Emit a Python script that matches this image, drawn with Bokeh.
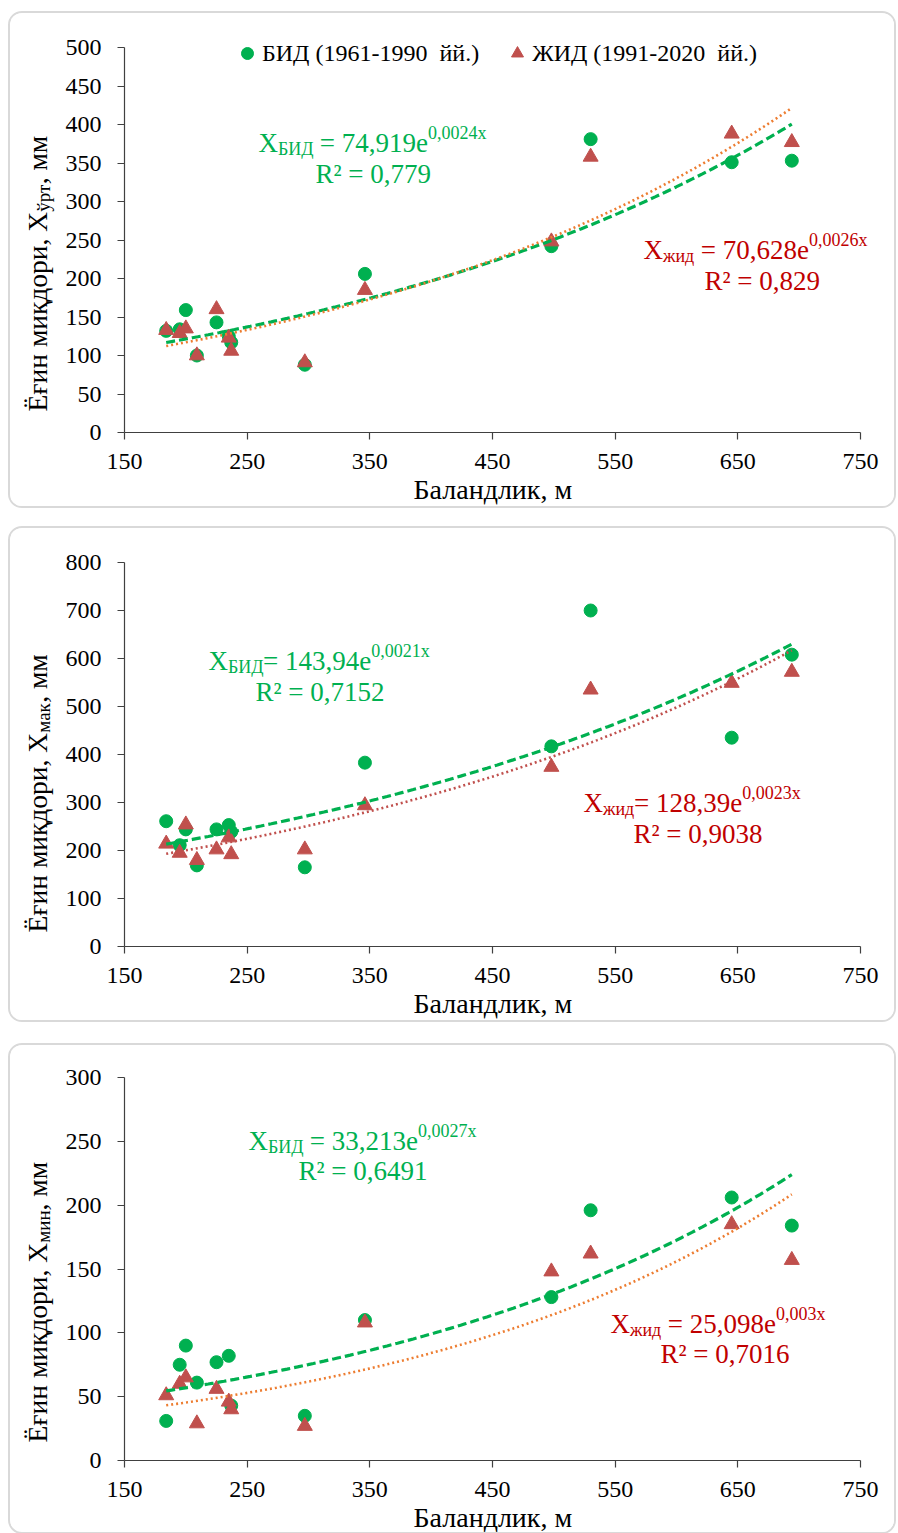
import numpy as np
from bokeh.plotting import figure
from bokeh.models import Label, Legend, LegendItem, Spacer, Range1d, FixedTicker, Title
from bokeh.layouts import column, row
from bokeh.embed import file_html
from bokeh.resources import INLINE

# ---------------- data ----------------
altitude = [184, 195, 200, 209, 225, 235, 237, 297, 346, 498, 530, 645, 694]

bid_avg = [132, 134, 159, 100, 143, 125, 117, 88, 206, 242, 381, 351, 353]
zhid_avg = [133, 129, 135, 100, 160, 123, 106, 91, 185, 248, 358, 388, 377]

bid_max = [261, 211, 244, 169, 244, 253, 239, 165, 383, 417, 700, 435, 608]
zhid_max = [214, 195, 254, 180, 202, 227, 192, 202, 294, 374, 535, 549, 572]

bid_min = [31, 75, 90, 61, 77, 82, 43, 35, 110, 128, 196, 206, 184]
zhid_min = [51, 60, 65, 29, 56, 46, 40, 27, 108, 148, 162, 185, 157]

x_ticks = [150, 250, 350, 450, 550, 650, 750]
y_ticks_avg = [0, 50, 100, 150, 200, 250, 300, 350, 400, 450, 500]
y_ticks_max = [0, 100, 200, 300, 400, 500, 600, 700, 800]
y_ticks_min = [0, 50, 100, 150, 200, 250, 300]

legend_labels = ["БИД (1961-1990  йй.)", "ЖИД (1991-2020  йй.)"]
x_title = "Баландлик, м"
y_title_main = "Ёғин миқдори, X"
y_title_subs = ["ўрт", "мак", "мин"]
y_title_tail = ", мм"

NB = "\u00a0"
eq_bid = [(NB + "= 74,919e", "0,0024x", "R² = 0,779"),
          ("= 143,94e", "0,0021x", "R² = 0,7152"),
          (NB + "= 33,213e", "0,0027x", "R² = 0,6491")]
eq_zhid = [(NB + "= 70,628e", "0,0026x", "R² = 0,829"),
           ("= 128,39e", "0,0023x", "R² = 0,9038"),
           (NB + "= 25,098e", "0,003x", "R² = 0,7016")]

GREEN = "#00B050"
RED_M = "#C0504D"
ORANGE = "#ED7D31"
GREEN_T = "#00B050"
RED_T = "#C00000"
AXIS = "#404040"
FONT = "Liberation Serif"

W = {' ': .25, NB: .25, ',': .25, '.': .25, '=': .564, 'e': .444, 'x': .5, 'X': .722,
     'Б': .556, 'И': .722, 'Д': .667, 'ж': .69, 'и': .535, 'д': .5, 'ў': .5,
     'р': .5, 'т': .444, 'м': .63, 'а': .444, 'к': .5, 'н': .535, 'Ё': .611,
     'ғ': .41, 'қ': .5, 'о': .5}

PX_PER_X = 736 / 600.0   # screen px per altitude unit
EQ_DY = 10               # baseline correction


def tw(s, size, k=1.0):
    return sum(W.get(c, 0.5) for c in s) * size * k


def rich(p, x, y, parts, color, angle=0.0, k=1.0):
    pos = 0.0
    for text, size, shift in parts:
        if angle == 0:
            sx, sy = x + pos, y + shift
        else:
            sx, sy = x - shift, y + pos
        p.add_layout(Label(x=sx, y=sy, x_units="screen", y_units="screen", text=text,
                           text_font=FONT, text_font_size=f"{size}px", text_color=color,
                           text_align="left", text_baseline="alphabetic", angle=angle))
        pos += tw(text, size, k)


def make_panel(bid, zhid, yticks, fh_axis, extra_top, bb, sub, eqb, eqz, posb, posz,
               ylab_y, zcolor, legend=False):
    frame_w = 770
    frame_h = fh_axis + extra_top
    y_top = yticks[-1] * frame_h / fh_axis
    x_right = 150 + frame_w / PX_PER_X
    p = figure(frame_width=frame_w, frame_height=frame_h, x_range=Range1d(150, x_right),
               y_range=Range1d(0, y_top), output_backend="svg",
               toolbar_location=None, min_border_left=64, min_border_right=0,
               min_border_top=0, min_border_bottom=bb,
               background_fill_color="white", border_fill_color="white")
    p.outline_line_color = None
    p.grid.visible = False
    for ax in (p.xaxis[0], p.yaxis[0]):
        ax.axis_line_color = AXIS
        ax.axis_line_width = 1.2
        ax.major_tick_line_color = AXIS
        ax.major_tick_line_width = 1.2
        ax.minor_tick_line_color = None
        ax.major_tick_in = 0
        ax.major_tick_out = 7
        ax.major_label_text_font = FONT
        ax.major_label_text_font_size = "24px"
        ax.major_label_text_color = "#000000"
    p.xaxis.ticker = FixedTicker(ticks=x_ticks)
    p.yaxis.ticker = FixedTicker(ticks=yticks)
    p.xaxis.bounds = (x_ticks[0], x_ticks[-1])
    p.yaxis.bounds = (yticks[0], yticks[-1])
    p.xaxis.major_label_standoff = 14
    p.yaxis.major_label_standoff = 16

    p.add_layout(Title(text=x_title, align="left", offset=289, text_font=FONT,
                       text_font_size="28px", text_font_style="normal", text_color="#000000",
                       standoff=0), "below")

    r1 = p.scatter(altitude, bid, marker="circle", size=13, color=GREEN)
    r2 = p.scatter(altitude, zhid, marker="triangle", size=15, color=RED_M)

    xs = np.linspace(min(altitude), max(altitude), 120)
    b1, a1 = np.polyfit(altitude, np.log(bid), 1)
    b2, a2 = np.polyfit(altitude, np.log(zhid), 1)
    p.line(xs, np.exp(a1) * np.exp(b1 * xs), line_color=GREEN, line_width=3.2, line_dash="9 4")
    p.line(xs, np.exp(a2) * np.exp(b2 * xs), line_color=zcolor, line_width=2.6, line_dash="2 3")

    if legend:
        lg = Legend(items=[LegendItem(label=legend_labels[0], renderers=[r1]),
                           LegendItem(label=legend_labels[1], renderers=[r2])],
                    orientation="horizontal", location=(108, 364),
                    glyph_width=30, glyph_height=30, label_standoff=0, spacing=23,
                    padding=0, margin=0, border_line_color=None, background_fill_alpha=0,
                    label_text_font=FONT, label_text_font_size="24px", label_text_color="#000000")
        p.add_layout(lg)

    # equations
    bx, by, rx, ry = posb
    rich(p, bx, by + EQ_DY, [("X", 27, 0), ("БИД", 18, -6), (eqb[0], 27, 0), (eqb[1], 18, 10)], GREEN_T)
    rich(p, rx, ry + EQ_DY, [(eqb[2], 27, 0)], GREEN_T)
    bx, by, rx, ry = posz
    rich(p, bx, by + EQ_DY, [("X", 27, 0), ("жид", 18, -6), (eqz[0], 27, 0), (eqz[1], 18, 10)], RED_T)
    rich(p, rx, ry + EQ_DY, [(eqz[2], 27, 0)], RED_T)

    # y axis title (with subscript) in a narrow companion figure
    total_h = frame_h + bb
    q = figure(frame_width=50, frame_height=total_h, x_range=Range1d(0, 1), y_range=Range1d(0, 1),
               output_backend="svg", toolbar_location=None, x_axis_location=None,
               y_axis_location=None, min_border=0, background_fill_color="white",
               border_fill_color="white")
    q.outline_line_color = None
    q.grid.visible = False
    rich(q, 27, ylab_y, [(y_title_main, 27.5, 0), (sub, 19, -6), (y_title_tail, 27.5, 0)], "#000000",
         angle=np.pi / 2, k=1.0)

    return row(q, p, styles={"border": "2px solid #d9d9d9", "border-radius": "14px",
                             "overflow": "hidden", "background": "white"})


p1 = make_panel(bid_avg, zhid_avg, y_ticks_avg, 385, 34, 74, y_title_subs[0], eq_bid[0], eq_zhid[0],
                (134, 280, 191, 249), (519, 173, 580, 142), 95, ORANGE, legend=True)
p2 = make_panel(bid_max, zhid_max, y_ticks_max, 384, 34, 74, y_title_subs[1], eq_bid[1], eq_zhid[1],
                (84, 276, 131, 245), (459, 134, 509, 103), 88, RED_M)
p3 = make_panel(bid_min, zhid_min, y_ticks_min, 383, 32, 68, y_title_subs[2], eq_bid[2], eq_zhid[2],
                (124, 310, 174, 280), (486, 127, 536, 97), 86, ORANGE)

layout = row(Spacer(width=8),
             column(Spacer(height=11), p1, Spacer(height=18), p2, Spacer(height=21), p3))

open("out.html", "w").write(file_html(layout, INLINE))
